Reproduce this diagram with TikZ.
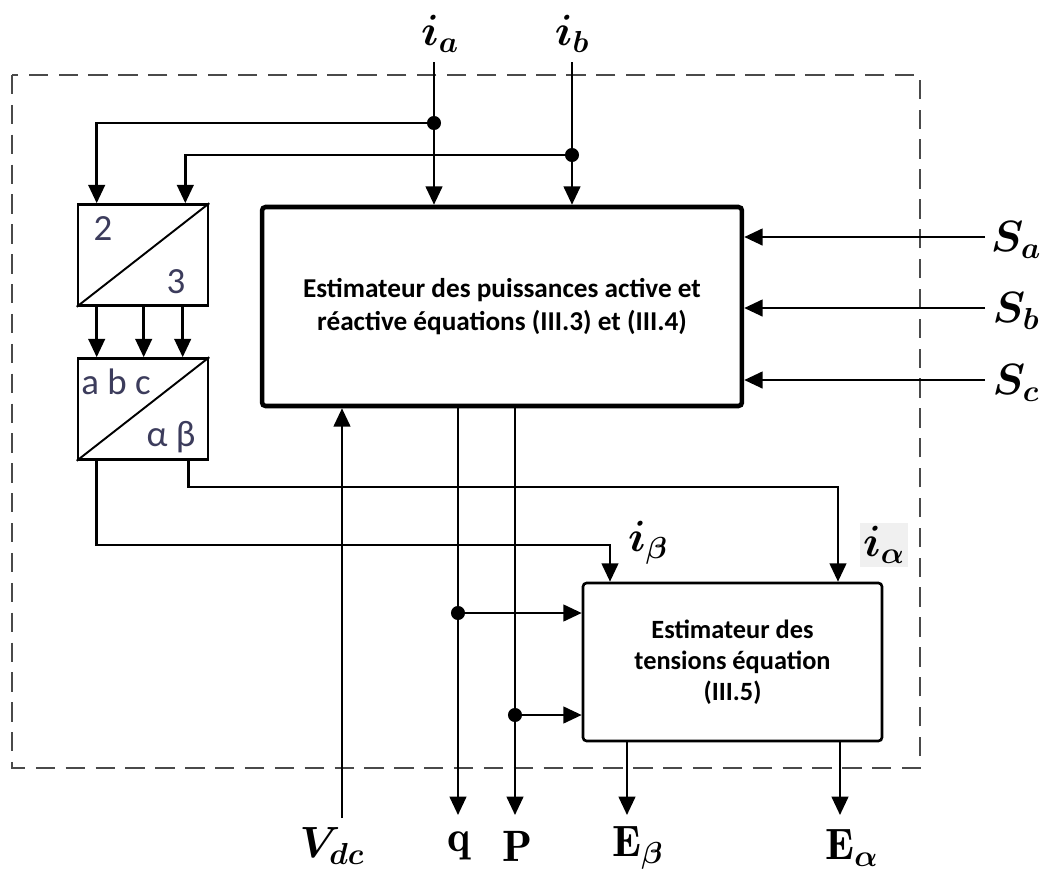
\documentclass[tikz,border=0pt]{standalone}
\usepackage{amsmath,bm}
\usepackage{fontspec}
\usetikzlibrary{positioning,arrows.meta}
\newfontfamily\blockfont{Carlito}
\definecolor{frame}{HTML}{4A4A4A}
\definecolor{digit}{HTML}{3C3C5C}

\begin{document}
\begin{tikzpicture}[x=0.02cm,y=-0.02cm,
  blk/.style={draw,line width=1.5pt,fill=white,inner sep=0pt},
  conv/.style={blk,minimum width=2.6cm,minimum height=2.02cm},
  est/.style={blk,align=center,font=\blockfont\bfseries\fontsize{15.5}{19}\selectfont},
  arr/.style={-{Triangle[length=10.5pt,width=9.5pt]},line width=1.4pt},
  dot/.style={circle,fill,inner sep=0pt,minimum size=8pt},
  lbl/.style={font=\fontsize{25}{29}\selectfont},
  digits/.style={font=\blockfont\fontsize{21}{24}\selectfont,text=digit}]
  \useasboundingbox (0,0) rectangle (1046,877);
  % dashed frame of the estimator
  \draw[frame,line width=1.6pt,dash pattern=on 11pt off 6pt] (12,75) rectangle (920,768);

  % blocks
  \node[conv] (c23) at (143,255) {};
  \draw[line width=1.1pt] (c23.south west) -- (c23.north east);
  \node[digits] (n2) at (103,229) {2};
  \node[digits] (n3) at (176,282) {3};
  \node[conv] (cab) at (143,409) {};
  \draw[line width=1.1pt] (cab.south west) -- (cab.north east);
  \node[digits] (nabc) at (116,382) {a b c};
  \node[digits] (nalbe) at (171,437) {α β};
  \node[est,line width=2.6pt,rounded corners=2pt,minimum width=9.6cm,minimum height=3.98cm] (pq) at (502,306.5)
    {Estimateur des puissances active et\\réactive équations (III.3) et (III.4)};
  \node[est,font=\blockfont\bfseries\fontsize{15}{17.5}\selectfont,rounded corners=2pt,minimum width=5.98cm,minimum height=3.16cm] (volt) at (732.5,662)
    {Estimateur des\\tensions équation\\(III.5)};

  % inputs ia, ib
  \coordinate (ia) at (434,62);
  \coordinate (ib) at (572,62);
  \node[lbl] (lia) at (440,34) {$\bm{i_a}$};
  \node[lbl] (lib) at (572,34) {$\bm{i_b}$};
  \draw[arr] (ia) -- (ia |- pq.north);
  \draw[arr] (ib) -- (ib |- pq.north);
  \node[dot] (da) at (434,123) {};
  \node[dot] (db) at (572,155) {};
  \draw[arr] (da) -| ([xshift=0.4cm]c23.north west);
  \draw[arr] (db) -| ([xshift=-0.48cm]c23.north east);
  \foreach \dx in {0.4,1.34,2.12}
    \draw[arr] ([xshift=\dx cm]c23.south west) -- ([xshift=\dx cm]cab.north west);

  % alpha beta currents
  \coordinate (kb) at (610,545);
  \coordinate (ka) at (838,487);
  \draw[arr] ([xshift=0.4cm]cab.south west) |- (kb) -- (kb |- volt.north);
  \draw[arr] ([xshift=2.24cm]cab.south west) |- (ka) -- (ka |- volt.north);
  \node[lbl] (libe) at (648,543) {$\bm{i_\beta}$};
  \node[lbl,fill=black!6,inner sep=2pt] (lial) at (884,545) {$\bm{i_\alpha}$};

  % switching states
  \foreach \s/\y in {a/237,b/308,c/380}{
    \coordinate (s\s) at (985,\y);
    \draw[arr] (s\s) -- (s\s -| pq.east);
    \node[lbl] (ls\s) at (1016,\y+3) {$\bm{S_\s}$};
  }

  % powers
  \coordinate (q) at (458,815);
  \coordinate (p) at (515,815);
  \draw[arr] (q |- pq.south) -- (q);
  \draw[arr] (p |- pq.south) -- (p);
  \node[dot] (dq) at (458,613) {};
  \node[dot] (dp) at (515,715) {};
  \draw[arr] (dq) -- (dq -| volt.west);
  \draw[arr] (dp) -- (dp -| volt.west);

  % dc voltage
  \coordinate (vdc) at (342,818);
  \draw[arr] (vdc) -- (vdc |- pq.south);

  % estimated voltages
  \coordinate (eb) at (627,815);
  \coordinate (ea) at (840,815);
  \draw[arr] (eb |- volt.south) -- (eb);
  \draw[arr] (ea |- volt.south) -- (ea);

  % output labels
  \node[lbl] (lvdc) at (332,846) {$\bm{V_{dc}}$};
  \node[lbl] (lq) at (459,846) {$\mathbf{q}$};
  \node[lbl] (lp) at (517,846) {$\mathbf{P}$};
  \node[lbl] (leb) at (638,848) {$\mathbf{E}_{\bm\beta}$};
  \node[lbl] (lea) at (852,848) {$\mathbf{E}_{\bm\alpha}$};
\end{tikzpicture}
\end{document}
